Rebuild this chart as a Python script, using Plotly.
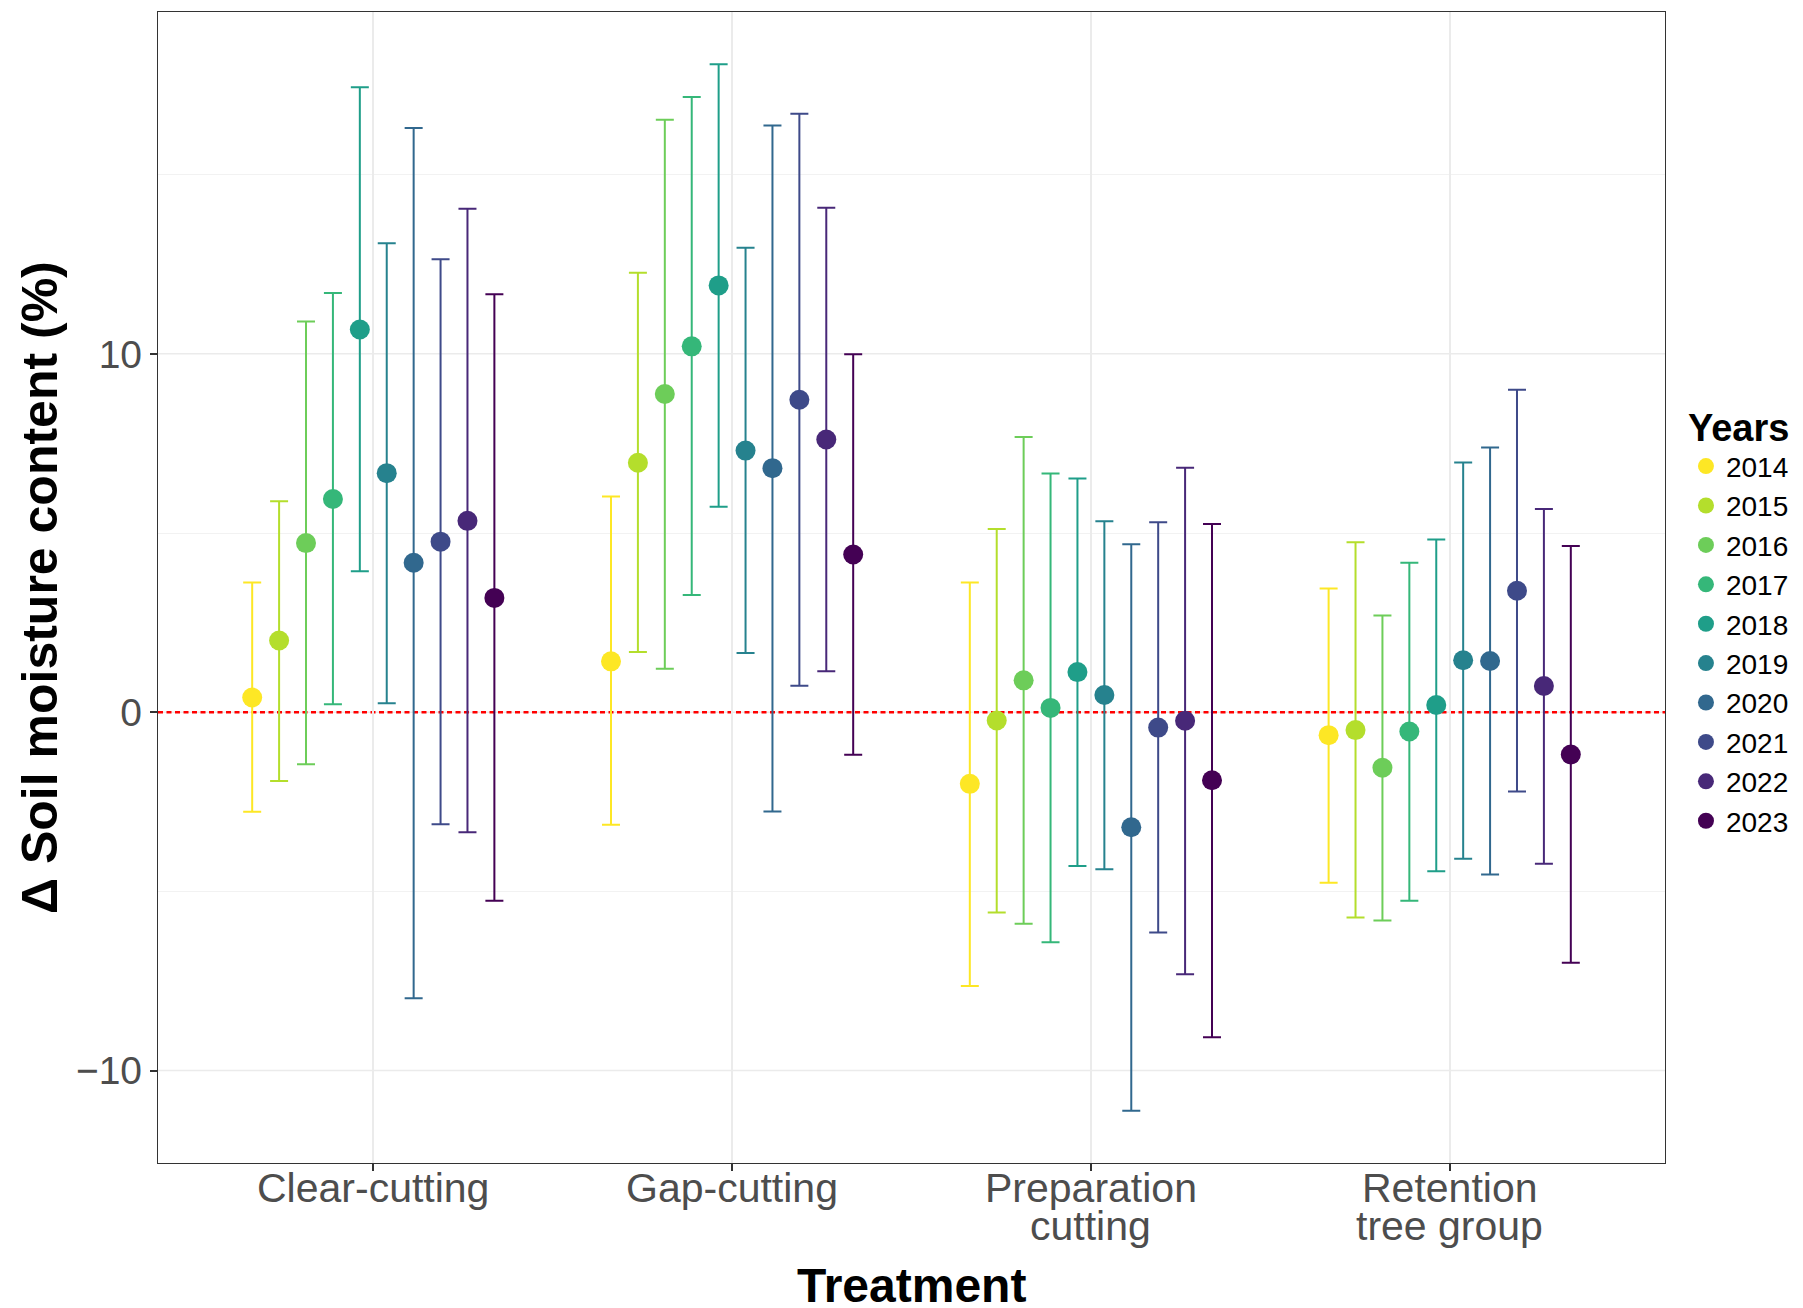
import plotly.graph_objects as go

# ---------------- data ----------------
categories = ["Clear-cutting", "Gap-cutting", "Preparation cutting", "Retention tree group"]
category_label_lines = [["Clear-cutting"], ["Gap-cutting"], ["Preparation", "cutting"], ["Retention", "tree group"]]
years = ["2014", "2015", "2016", "2017", "2018", "2019", "2020", "2021", "2022", "2023"]
year_colors = ["#FDE725", "#B4DE2C", "#6DCD59", "#35B779", "#1F9E89",
               "#26828E", "#31688E", "#3E4A89", "#482878", "#440154"]

# rows = years, columns = categories (Clear, Gap, Preparation, Retention)
mean_values = [
    [0.41, 1.42, -2.00, -0.64],
    [2.00, 6.96, -0.23, -0.50],
    [4.72, 8.88, 0.89, -1.55],
    [5.95, 10.21, 0.12, -0.54],
    [10.68, 11.91, 1.12, 0.20],
    [6.67, 7.30, 0.48, 1.45],
    [4.17, 6.81, -3.21, 1.43],
    [4.76, 8.72, -0.43, 3.39],
    [5.34, 7.61, -0.24, 0.73],
    [3.19, 4.40, -1.90, -1.18],
]
lower_values = [
    [-2.78, -3.14, -7.64, -4.76],
    [-1.92, 1.68, -5.59, -5.73],
    [-1.45, 1.21, -5.90, -5.81],
    [0.22, 3.27, -6.42, -5.26],
    [3.93, 5.73, -4.29, -4.44],
    [0.25, 1.65, -4.38, -4.09],
    [-7.98, -2.77, -11.12, -4.53],
    [-3.13, 0.74, -6.15, -2.21],
    [-3.35, 1.14, -7.31, -4.23],
    [-5.26, -1.19, -9.07, -6.99],
]
upper_values = [
    [3.62, 6.02, 3.62, 3.45],
    [5.89, 12.26, 5.11, 4.74],
    [10.90, 16.53, 7.68, 2.70],
    [11.70, 17.17, 6.66, 4.17],
    [17.44, 18.08, 6.52, 4.82],
    [13.09, 12.96, 5.33, 6.97],
    [16.30, 16.37, 4.69, 7.39],
    [12.64, 16.70, 5.30, 9.00],
    [14.05, 14.08, 6.82, 5.67],
    [11.66, 9.99, 5.25, 4.64],
]
y_tick_values = [-10, 0, 10]
y_tick_labels = ["\u221210", "0", "10"]
y_minor_values = [-5, 5, 15]
reference_value = 0

# ---------------- figure ----------------
FONT = "Liberation Sans, Arial, sans-serif"
fig = go.Figure()

for i, yr in enumerate(years):
    m = mean_values[i]
    up = [u - v for u, v in zip(upper_values[i], m)]
    dn = [v - l for v, l in zip(m, lower_values[i])]
    fig.add_trace(go.Scatter(
        x=categories, y=m, mode="markers", name=yr,
        marker=dict(color=year_colors[i], size=20, line=dict(width=0)),
        error_y=dict(type="data", symmetric=False, array=up, arrayminus=dn,
                     color=year_colors[i], thickness=2, width=9),
        offsetgroup=yr,
    ))

# major horizontal gridlines (drawn as shapes so the red reference line sits on top)
for v in y_tick_values:
    fig.add_shape(type="line", xref="paper", yref="y", x0=0, x1=1, y0=v, y1=v,
                  line=dict(color="#EBEBEB", width=1.5), layer="between")
fig.add_shape(type="line", xref="paper", yref="y", x0=0, x1=1,
              y0=reference_value, y1=reference_value,
              line=dict(color="#FF0000", width=2.5, dash="5px,3.5px"), layer="between")

# category labels (one annotation per text line, under the axis)
label_offsets = [-0.0217, -0.0547]
annotations = []
for cat, lines in zip(categories, category_label_lines):
    for k, line in enumerate(lines):
        annotations.append(dict(
            text=line, xref="x", yref="paper", x=cat, y=label_offsets[k],
            xanchor="center", yanchor="middle", showarrow=False,
            font=dict(size=41, family=FONT, color="#4D4D4D")))

annotations += [
    dict(text="<b>Treatment</b>", xref="paper", yref="paper", x=0.5, y=-0.106,
         xanchor="center", yanchor="middle", showarrow=False,
         font=dict(size=48, family=FONT, color="#000000")),
    dict(text="<b>\u0394 Soil moisture content (%)</b>", xref="paper", yref="paper",
         x=-0.0787, y=0.5, xanchor="center", yanchor="middle", textangle=-90,
         showarrow=False, font=dict(size=50, family=FONT, color="#000000")),
]

fig.update_layout(
    width=1795, height=1300,
    margin=dict(l=150, r=138, t=4, b=145),
    plot_bgcolor="white", paper_bgcolor="white",
    font=dict(family=FONT, color="#000000"),
    scattermode="group", scattergap=0.25,
    showlegend=True,
    legend=dict(
        title=dict(text="<b>Years</b>", font=dict(size=38, family=FONT, color="#000000"), side="top"),
        font=dict(size=28, family=FONT, color="#000000"),
        xref="container", yref="container", x=0.9348, y=0.7046,
        xanchor="left", yanchor="top", itemwidth=30,
        bgcolor="rgba(0,0,0,0)", tracegroupgap=0,
    ),
    xaxis=dict(
        type="category", categoryorder="array", categoryarray=categories,
        range=[-0.6, 3.6], showticklabels=False,
        showgrid=True, gridcolor="#EBEBEB", gridwidth=1.5,
        ticks="outside", ticklen=7, tickwidth=1.5, tickcolor="#333333",
        showline=True, linecolor="#333333", linewidth=1.3, mirror=True,
        zeroline=False,
    ),
    yaxis=dict(
        range=[-12.58, 19.54],
        tickvals=y_tick_values, ticktext=y_tick_labels,
        showgrid=False,
        ticks="outside", ticklen=7, tickwidth=1.5, tickcolor="#333333",
        tickfont=dict(size=39, color="#4D4D4D", family=FONT),
        showline=True, linecolor="#333333", linewidth=1.3, mirror=True,
        zeroline=False,
        minor=dict(tickvals=y_minor_values, showgrid=True, gridcolor="#F2F2F2", gridwidth=1, ticks=""),
    ),
    annotations=annotations,
)

fig.write_html("out.html")
